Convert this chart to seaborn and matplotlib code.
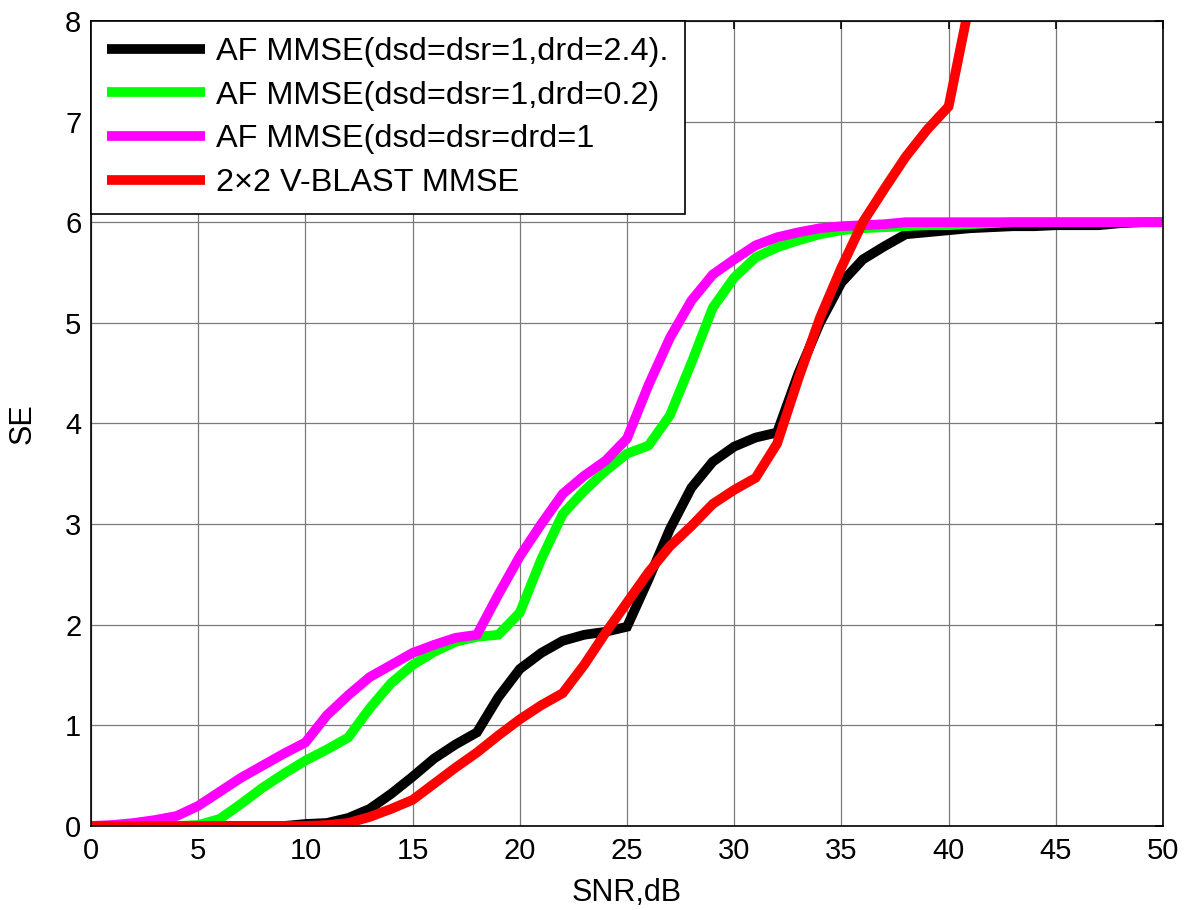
import numpy as np
import pandas as pd
import matplotlib
matplotlib.use("Agg")
import matplotlib.pyplot as plt
import seaborn as sns

snr = list(range(0, 51))
snr_red = list(range(0, 42))

se_black = [0]*10 + [0.02, 0.03, 0.08, 0.17, 0.32, 0.49, 0.67, 0.81, 0.93, 1.28,
                     1.56, 1.72, 1.84, 1.90, 1.93, 1.98, 2.45, 2.95, 3.36, 3.62,
                     3.77, 3.86, 3.91, 4.50, 5.00, 5.40, 5.63, 5.76, 5.88, 5.90,
                     5.92, 5.94, 5.95, 5.96, 5.96, 5.97, 5.97, 5.97, 5.99, 6.00, 6.00]
se_green = [0, 0, 0, 0, 0, 0.01, 0.07, 0.22, 0.38, 0.52,
            0.65, 0.76, 0.88, 1.17, 1.42, 1.60, 1.73, 1.83, 1.88, 1.90,
            2.12, 2.65, 3.10, 3.33, 3.53, 3.70, 3.78, 4.08, 4.60, 5.15,
            5.45, 5.65, 5.75, 5.82, 5.88, 5.92, 5.94, 5.95, 5.96, 5.97,
            5.97, 5.98, 5.99, 6.00, 6.00, 6.00, 6.00, 6.00, 6.00, 6.00, 6.00]
se_magenta = [0, 0.01, 0.03, 0.06, 0.10, 0.20, 0.34, 0.48, 0.60, 0.72,
              0.83, 1.10, 1.30, 1.48, 1.60, 1.72, 1.80, 1.87, 1.90, 2.30,
              2.68, 3.00, 3.30, 3.48, 3.63, 3.85, 4.38, 4.85, 5.22, 5.48,
              5.63, 5.77, 5.85, 5.90, 5.94, 5.96, 5.97, 5.98, 6.00, 6.00,
              6.00, 6.00, 6.00, 6.00, 6.00, 6.00, 6.00, 6.00, 6.00, 6.00, 6.00]
se_red = [0]*11 + [0.01, 0.03, 0.09, 0.17, 0.26, 0.42, 0.58, 0.73, 0.90, 1.06,
                   1.20, 1.32, 1.60, 1.92, 2.22, 2.52, 2.78, 2.98, 3.20, 3.34,
                   3.46, 3.80, 4.45, 5.05, 5.55, 6.00, 6.33, 6.65, 6.92, 7.15, 8.20]

labels = ["AF MMSE(dsd=dsr=1,drd=2.4).",
          "AF MMSE(dsd=dsr=1,drd=0.2)",
          "AF MMSE(dsd=dsr=drd=1",
          "2\u00d72 V-BLAST MMSE"]
colors = ["#000000", "#00FF00", "#FF00FF", "#FF0000"]

sns.set_style("white")
plt.rcParams['font.family'] = ['Liberation Sans', 'DejaVu Sans']
plt.rcParams['text.color'] = 'black'
plt.rcParams['axes.labelcolor'] = 'black'

fig = plt.figure(figsize=(11.91, 9.10), dpi=100)
ax = fig.add_axes([0.0764, 0.0923, 0.9001, 0.8847])

series = [(snr, se_black), (snr, se_green), (snr, se_magenta), (snr_red, se_red)]
for (xs, ys), lab, col in zip(series, labels, colors):
    sns.lineplot(x=xs, y=ys, ax=ax, color=col, linewidth=7.0, label=lab,
                 solid_joinstyle='miter', solid_capstyle='butt')

ax.set_xlim(0, 50)
ax.set_ylim(0, 8)
ax.set_xticks(range(0, 51, 5))
ax.set_yticks(range(0, 9, 1))
ax.grid(True, color='#7a7a7a', linewidth=0.9, linestyle='-')
ax.set_axisbelow(True)
ax.tick_params(direction='in', length=6, width=1.2, top=True, right=True,
               labelsize=21, colors='black')
ax.tick_params(axis='x', pad=8)
ax.tick_params(axis='y', pad=7)
for s in ax.spines.values():
    s.set_color('black')
    s.set_linewidth(1.2)
ax.set_xlabel("SNR,dB", fontsize=22, labelpad=9, color='black')
ax.set_ylabel("SE", fontsize=22, labelpad=20, color='black')

leg = ax.legend(loc='upper left', fontsize=23.4, handlelength=3.0,
                frameon=True, fancybox=False, framealpha=1,
                borderaxespad=0.0, borderpad=0.5, labelspacing=0.42,
                handletextpad=0.35)
leg.get_frame().set_edgecolor('black')
leg.get_frame().set_linewidth(1.2)

fig.savefig("out.png", dpi=100)
